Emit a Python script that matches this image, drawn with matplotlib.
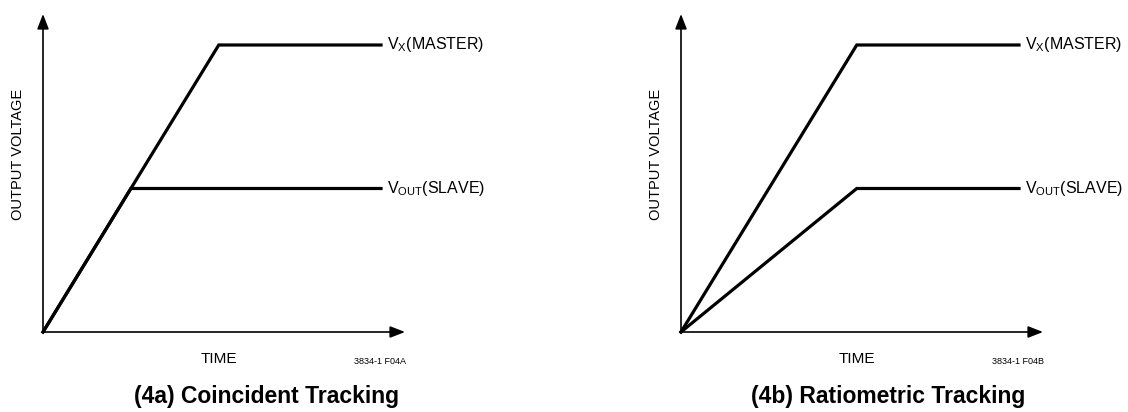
import matplotlib
matplotlib.use("Agg")
import matplotlib.pyplot as plt

plt.rcParams['font.family'] = ['Liberation Sans', 'DejaVu Sans']
plt.rcParams['mathtext.fontset'] = 'custom'
plt.rcParams['mathtext.rm'] = 'Liberation Sans'
plt.rcParams['mathtext.it'] = 'Liberation Sans'

# normalised time / voltage (master settles at 1.0)
time_master = [0, 0.52, 1.0]
volt_master = [0, 1.0, 1.0]
time_slave_a = [0, 0.26, 0.52, 1.0]
volt_slave_a = [0, 0.5, 0.5, 0.5]
time_slave_b = [0, 0.52, 1.0]
volt_slave_b = [0, 0.5, 0.5]

labels = [r"V$_{\mathrm{X}}$(MASTER)", r"V$_{\mathrm{OUT}}$(SLAVE)"]
titles = ["(4a) Coincident Tracking", "(4b) Ratiometric Tracking"]
codes = ["3834-1 F04A", "3834-1 F04B"]
xmax, ymax = 1.071, 1.108

W, H = 1128, 412
fig = plt.figure(figsize=(W / 100, H / 100), dpi=100)

panels = [
    (43, (time_slave_a, volt_slave_a)),
    (681, (time_slave_b, volt_slave_b)),
]

for i, (x0, slave) in enumerate(panels):
    # axes from origin pixel to arrow tips
    ax = fig.add_axes([x0 / W, 80 / H, 362 / W, 318 / H])
    ax.set_xlim(0, xmax)
    ax.set_ylim(0, ymax)
    ax.axis('off')

    for tip in [(xmax, 0), (0, ymax)]:
        ax.annotate("", xy=tip, xytext=(0, 0),
                    arrowprops=dict(arrowstyle='-|>,head_length=0.9,head_width=0.35',
                                    color='black', lw=1.2, shrinkA=0, shrinkB=0),
                    annotation_clip=False)

    ax.plot(time_master, volt_master, color='black', lw=2.3,
            solid_joinstyle='miter', clip_on=False)
    ax.plot(slave[0], slave[1], color='black', lw=2.3,
            solid_joinstyle='miter', clip_on=False)

    ax.text(1.018, volt_master[-1], labels[0], fontsize=11.5, va='center', ha='left')
    ax.text(1.018, slave[1][-1], labels[1], fontsize=11.5, va='center', ha='left')

    ax.text(-0.075, 0.617, "OUTPUT VOLTAGE", rotation=90, fontsize=10.5,
            va='center', ha='center')
    ax.text(0.52, -0.094, "TIME", fontsize=11, va='center', ha='center')
    ax.text(0.997, -0.103, codes[i], fontsize=6.5, va='center', ha='center')

fig.text(267 / W, 1 - 397 / H, titles[0], fontsize=16.5, fontweight='bold',
         ha='center', va='center')
fig.text(888 / W, 1 - 397 / H, titles[1], fontsize=16.5, fontweight='bold',
         ha='center', va='center')

fig.savefig("out.png", dpi=100)
